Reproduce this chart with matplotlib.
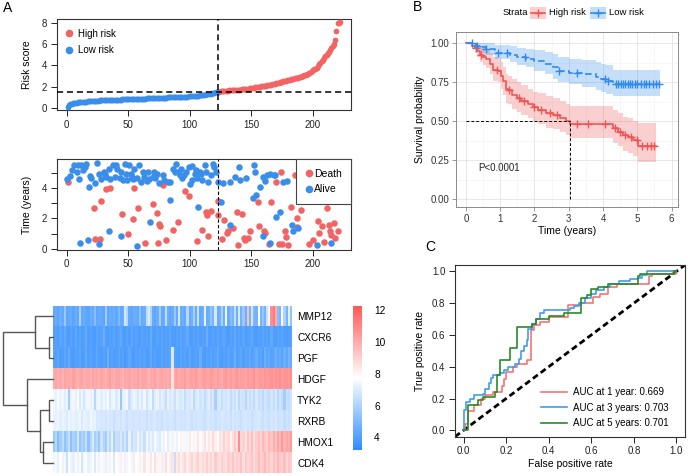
import numpy as np
import matplotlib
matplotlib.use('Agg')
import matplotlib.pyplot as plt
from matplotlib.colors import LinearSegmentedColormap
from matplotlib.patches import Rectangle
from matplotlib.lines import Line2D

plt.rcParams['font.family'] = ['Liberation Sans', 'DejaVu Sans']
plt.rcParams['font.size'] = 7

# ---------------- data ----------------
risk_low = [0.12, 0.25, 0.33, 0.38, 0.42, 0.45, 0.48, 0.50, 0.52, 0.53, 0.55,
            0.56, 0.57, 0.58, 0.59, 0.60, 0.61, 0.61, 0.62, 0.63, 0.64, 0.65, 0.66, 0.67, 0.68, 0.69,
            0.70, 0.70, 0.71, 0.71, 0.72, 0.72, 0.73, 0.73, 0.74, 0.74, 0.75, 0.75, 0.76, 0.76, 0.77,
            0.77, 0.78, 0.78, 0.79, 0.79, 0.80, 0.80, 0.81, 0.81, 0.82,
            0.82, 0.83, 0.83, 0.84, 0.84, 0.85, 0.85, 0.86, 0.86, 0.87, 0.87, 0.88, 0.88, 0.89, 0.89,
            0.90, 0.90, 0.91, 0.91, 0.92, 0.92, 0.93, 0.93, 0.94, 0.95,
            0.95, 0.96, 0.96, 0.97, 0.97, 0.98, 0.98, 0.99, 0.99, 1.00, 1.00, 1.01, 1.01, 1.02, 1.03,
            1.03, 1.04, 1.05, 1.05, 1.06, 1.07, 1.07, 1.08, 1.09, 1.10,
            1.11, 1.12, 1.13, 1.14, 1.15, 1.16, 1.18, 1.19, 1.21, 1.23, 1.25, 1.27, 1.29, 1.31, 1.33,
            1.35, 1.37, 1.39, 1.42, 1.45, 1.48]
risk_high = [1.52, 1.54, 1.56, 1.58, 1.59, 1.60, 1.61, 1.62, 1.63, 1.64,
             1.65, 1.66, 1.67, 1.68, 1.69, 1.70, 1.71, 1.72, 1.73, 1.74,
             1.75, 1.76, 1.77, 1.79, 1.80, 1.82, 1.84, 1.86, 1.88, 1.90,
             1.92, 1.94, 1.96, 1.98, 2.00, 2.02, 2.04, 2.06, 2.08, 2.10,
             2.12, 2.15, 2.18, 2.20, 2.23, 2.26, 2.29, 2.32, 2.35, 2.38,
             2.41, 2.44, 2.47, 2.50, 2.53, 2.56, 2.59, 2.62, 2.65, 2.68,
             2.71, 2.74, 2.77, 2.80, 2.83, 2.86, 2.89, 2.93, 2.97, 3.01,
             3.05, 3.10, 3.15, 3.20, 3.28, 3.36, 3.45, 3.55, 3.62, 3.70,
             3.80, 3.95, 4.10, 4.25, 4.40, 4.55, 4.70, 4.85, 5.00, 5.15,
             5.30, 5.45, 5.60, 5.80, 6.05, 6.40, 7.25, 8.00, 8.02, 8.05]
risk_cutoff = 1.5

# survival status scatter (patient rank, time in years)
death_rank = [1, 22, 28, 23, 27, 32, 35, 45, 50, 54, 55, 58, 64, 70, 73, 74, 75, 76, 78, 81, 86, 90, 96, 99,
              106, 110, 113, 114, 117, 115,
              123, 123, 126, 128, 130, 131, 135, 138, 142, 139, 144, 145, 147, 149, 155, 156, 160, 161, 166,
              164, 170, 174, 172, 175, 177, 178, 180, 182, 185, 187, 187, 190, 197, 200, 204, 207, 205, 209,
              211, 213, 214, 215, 217, 218, 220]
death_time = [4.40, 2.67, 3.15, 0.67, 0.67, 3.93, 4.02, 2.28, 0.98, 1.98, 4.02, 2.70, 0.37, 2.97, 2.35, 0.35,
              1.62, 1.47, 4.20, 0.60, 1.26, 1.76, 3.82, 3.50, 0.50, 1.26, 2.41, 2.24, 2.50, 0.82,
              3.15, 2.24, 0.65, 1.90, 1.04, 1.15, 1.37, 2.41, 2.28, 0.24, 0.72, 0.60, 0.72, 1.15, 3.06, 1.48,
              1.19, 1.04, 3.06, 0.32, 4.40, 5.06, 0.32, 0.28, 1.15, 0.76, 0.24, 2.78, 4.84, 2.02, 1.41, 2.56,
              0.28, 0.60, 1.80, 1.48, 1.04, 0.46, 2.71, 1.59, 1.19, 0.93, 1.70, 0.72, 1.19]
alive_rank = [0, 3, 4, 6, 8, 9, 10, 12, 13, 15, 16, 18, 19, 20, 23, 25, 26, 28, 30, 31, 32, 34, 35, 38, 39, 40, 41,
              43, 44, 46, 47, 48, 49, 51, 52, 53, 54, 55, 57, 59, 60, 62, 63, 65, 66, 67, 70, 71, 72, 73, 75, 78,
              79, 82, 84, 86, 88, 89, 90, 92, 93, 94, 95, 97, 99, 100, 102, 102, 104, 105, 106, 108, 109, 110,
              112, 113, 115, 117, 119, 120, 121, 123,
              11, 17, 26, 34, 44, 57, 68, 84, 107,
              125, 127, 133, 137, 140, 141, 146, 152, 153, 151, 154, 157, 159, 163, 159, 165, 168, 169, 170,
              173, 176, 179, 183, 184, 188, 133, 203, 215, 161, 165]
alive_time = [4.58, 4.80, 5.17, 5.50, 5.06, 5.54, 4.58, 5.54, 5.17, 5.39, 5.56, 4.08, 4.80, 4.63, 4.30, 5.67,
              4.95, 4.56, 5.06, 4.89, 4.74, 5.28, 4.56, 5.50, 4.72, 5.50, 5.28, 4.63, 5.06, 4.52, 5.61, 4.95,
              4.52, 5.50, 4.95, 4.74, 4.56, 5.28, 4.67, 5.54, 4.41, 5.06, 4.74, 4.45, 5.06, 4.58, 4.74, 5.06,
              4.63, 4.89, 4.30, 4.85, 4.52, 4.41, 4.37, 5.28, 5.06, 5.61, 5.06, 4.85, 5.28, 4.63, 4.85, 5.06,
              5.39, 4.28, 5.45, 4.52, 4.95, 5.17, 4.67, 5.06, 4.95, 4.52, 5.50, 5.06, 4.37, 4.85, 5.61, 5.39,
              5.06, 4.41,
              0.39, 0.60, 0.32, 1.19, 0.87, 0.17, 1.74, 3.20, 2.76,
              3.06, 4.30, 4.37, 4.70, 5.39, 4.50, 4.63, 5.50, 5.06, 3.33, 3.54, 4.04, 4.74, 4.84, 0.82, 0.39,
              4.84, 4.84, 2.06, 2.39, 4.37, 4.45, 1.59, 1.19, 1.37, 1.59, 0.24, 0.39, 4.45, 4.90]

# heatmap (genes x patients, patients ordered by risk, 2 patients per column)
genes = ['MMP12', 'CXCR6', 'PGF', 'HDGF', 'TYK2', 'RXRB', 'HMOX1', 'CDK4']
expr_MMP12 = [4.3, 4.5, 4.2, 4.6, 4.4, 5.6, 4.3, 4.4, 4.5, 4.2, 4.6, 4.3, 6.0, 4.4, 4.5, 4.3, 4.2, 4.6, 4.4, 5.2,
              4.3, 4.5, 4.4, 4.2, 5.8, 4.3, 4.5, 4.4, 4.6, 4.3, 5.0, 4.4, 4.5, 6.8, 6.2, 4.4, 4.3, 4.6, 4.5, 4.4,
              5.3, 4.4, 4.6, 6.5, 7.0, 6.0, 4.5, 4.3, 4.6, 5.8, 4.4, 4.5, 6.4, 4.6, 4.3, 4.5, 5.6, 4.4, 6.8, 4.5,
              4.6, 4.4, 6.2, 4.5, 4.7, 5.9, 4.5, 6.6, 4.4, 4.6, 7.2, 4.5, 4.6, 5.5, 4.8, 6.9, 4.5, 4.7, 6.0, 4.6,
              7.4, 4.5, 5.2, 4.8, 6.5, 4.6, 7.0, 4.7, 5.6, 4.6, 9.5, 4.8, 6.8, 5.0, 4.7, 7.8, 4.9, 5.5, 4.8, 6.6,
              7.5, 10.8, 11.3, 10.0, 5.2, 4.9, 7.9, 6.0, 4.8, 7.2, 5.4]
expr_CXCR6 = [4.0, 4.1, 3.9, 4.2, 4.0, 4.4, 4.0, 3.9, 4.1, 4.0, 4.3, 4.0, 4.1, 3.9, 4.0, 4.5, 4.0, 4.1, 4.0, 3.9,
              4.2, 4.0, 4.1, 4.6, 4.0, 3.9, 4.1, 4.0, 4.2, 4.0, 4.1, 4.4, 4.0, 3.9, 4.1, 4.0, 4.3, 4.0, 4.1, 4.0,
              3.9, 4.2, 4.0, 4.1, 4.0, 4.5, 4.0, 3.9, 4.1, 4.0, 4.2, 4.0, 4.1, 4.0, 4.3, 4.0, 3.9, 4.1, 4.0, 4.2,
              4.0, 4.1, 4.4, 4.0, 3.9, 4.1, 4.0, 4.2, 4.0, 4.1, 4.0, 4.6, 4.0, 3.9, 4.1, 4.0, 4.2, 4.0, 4.1, 4.3,
              4.0, 3.9, 4.1, 4.0, 4.4, 4.0, 4.1, 4.0, 4.2, 3.9, 4.0, 4.1, 4.3, 4.0, 3.9, 4.1, 4.0, 4.2, 4.0, 4.1,
              4.0, 4.4, 4.0, 3.9, 4.1, 4.0, 4.2, 4.0, 3.9, 4.0, 4.1]
expr_PGF = [4.1, 4.0, 4.3, 3.9, 4.0, 4.2, 4.0, 4.5, 4.0, 3.9, 4.1, 4.0, 4.2, 3.9, 4.0, 4.4, 4.0, 4.1, 3.9, 4.0,
            4.2, 4.0, 3.9, 4.1, 4.0, 4.6, 4.0, 4.1, 3.9, 4.0, 4.2, 4.0, 4.1, 3.8, 4.0, 4.3, 4.0, 3.9, 4.1, 4.0,
            4.2, 4.0, 4.1, 3.9, 4.0, 4.4, 4.0, 4.1, 3.9, 4.0, 4.2, 4.0, 4.1, 4.0, 4.3, 7.0, 4.1, 4.0, 3.9, 4.2,
            4.0, 4.1, 4.0, 4.3, 3.9, 4.0, 4.1, 4.0, 4.5, 4.0, 3.9, 4.1, 4.0, 4.2, 4.0, 4.1, 4.4, 4.0, 3.9, 4.1,
            4.0, 4.2, 4.0, 4.1, 4.6, 4.0, 4.1, 4.3, 4.0, 4.2, 4.1, 4.4, 4.0, 4.2, 4.5, 4.1, 4.3, 4.0, 4.6, 4.2,
            4.4, 4.1, 4.3, 4.7, 4.2, 4.5, 4.1, 4.6, 4.3, 4.8, 4.5]
expr_HDGF = [10.0, 10.2, 9.9, 10.1, 9.8, 10.2, 10.0, 10.1, 9.9, 10.3, 10.0, 9.8, 10.1, 10.2, 9.9, 10.0, 10.1, 9.8, 10.2, 10.0,
             10.1, 9.9, 10.2, 10.0, 9.8, 10.1, 10.3, 10.0, 9.9, 10.1, 10.2, 10.0, 9.8, 10.1, 10.0, 10.2, 9.9, 10.1, 10.0, 10.3,
             9.9, 10.1, 10.2, 10.0, 9.8, 10.1, 10.0, 10.3, 9.9, 10.1, 10.2, 10.0, 10.1, 9.9, 10.2, 8.5, 10.1, 10.3, 10.0, 10.2,
             10.1, 10.4, 10.0, 10.2, 10.3, 10.1, 10.5, 10.2, 10.0, 10.3, 10.4, 10.1, 10.2, 10.5, 10.3, 10.1, 10.4, 10.2, 10.0, 10.3,
             10.5, 10.2, 10.4, 10.1, 10.3, 10.6, 10.2, 10.4, 10.3, 10.1, 10.5, 10.3, 10.4, 10.6, 10.2, 10.4, 10.5, 10.3, 10.6, 10.4,
             10.5, 10.7, 10.4, 10.6, 10.5, 10.8, 10.4, 10.6, 10.7, 10.5, 10.8]
expr_TYK2 = [7.4, 7.2, 7.6, 7.3, 7.5, 7.1, 7.4, 5.8, 7.3, 7.5, 7.2, 7.6, 7.0, 7.4, 6.8, 7.3, 7.5, 7.2, 7.4, 6.2,
             7.3, 7.5, 7.1, 7.4, 7.2, 7.6, 6.9, 7.3, 7.5, 7.0, 7.4, 5.6, 7.2, 7.3, 7.5, 6.6, 7.1, 7.4, 7.2, 6.9,
             7.3, 7.0, 7.4, 6.7, 7.2, 7.5, 6.4, 7.1, 7.3, 6.8, 7.2, 7.0, 6.5, 7.3, 6.9, 7.1, 6.6, 7.2, 7.0, 6.8,
             7.1, 6.5, 7.0, 6.8, 7.2, 6.3, 6.9, 7.1, 6.7, 7.0, 6.4, 6.8, 7.1, 6.6, 6.9, 5.9, 6.8, 7.0, 6.5, 6.9,
             6.7, 7.0, 6.4, 6.8, 6.6, 7.1, 6.3, 6.8, 6.7, 6.2, 6.9, 6.6, 6.8, 6.4, 7.0, 6.5, 6.7, 6.3, 6.8, 6.6,
             6.4, 6.8, 6.5, 6.9, 6.2, 6.7, 6.5, 5.8, 6.6, 6.4, 6.7]
expr_RXRB = [7.3, 7.2, 7.4, 7.1, 7.3, 7.2, 7.0, 7.4, 7.2, 7.3, 7.1, 7.2, 7.4, 7.0, 7.3, 7.2, 7.1, 7.5, 7.2, 7.3,
             6.9, 7.0, 6.8, 6.9, 6.7, 7.0, 6.8, 6.9, 6.6, 6.8, 6.9, 6.7, 7.0, 6.8, 6.6, 6.9, 6.8, 6.7, 6.9, 6.8,
             6.7, 6.9, 6.8, 6.6, 6.9, 6.7, 6.8, 7.0, 6.7, 6.8, 6.6, 6.9, 6.8, 6.7, 6.9, 6.8, 6.6, 6.8, 6.9, 6.7,
             6.8, 6.7, 6.9, 6.8, 6.6, 6.8, 6.7, 6.9, 6.8, 6.7, 6.6, 6.8, 6.9, 6.7, 6.8, 6.6, 6.8, 6.7, 6.9, 6.8,
             6.7, 6.8, 6.6, 6.9, 6.7, 6.8, 6.7, 6.6, 6.8, 6.9, 6.7, 6.8, 6.6, 6.7, 6.8, 6.9, 6.7, 6.6, 6.8, 6.7,
             6.6, 6.8, 6.7, 6.9, 6.6, 6.7, 6.8, 6.5, 6.7, 6.6, 6.8]
expr_HMOX1 = [5.6, 6.2, 5.2, 5.8, 6.4, 5.4, 5.9, 6.6, 5.3, 6.0, 5.7, 6.8, 5.5, 6.1, 5.8, 6.5, 5.4, 6.2, 7.0, 5.9,
              6.3, 5.6, 6.7, 6.1, 5.8, 6.9, 6.2, 7.2, 6.0, 6.6, 6.4, 7.0, 6.3, 6.8, 6.1, 7.3, 6.5, 6.9, 6.7, 7.4,
              6.8, 7.1, 6.6, 7.5, 7.0, 7.3, 6.9, 7.6, 7.2, 7.0, 7.5, 7.3, 7.8, 7.1, 7.6, 7.4, 7.9, 7.3, 7.7, 8.1,
              7.6, 8.0, 7.5, 8.3, 7.8, 8.1, 7.9, 8.5, 7.7, 8.2, 8.6, 7.9, 8.4, 8.0, 8.8, 8.2, 7.8, 8.6, 8.3, 9.0,
              8.4, 8.8, 8.1, 8.6, 9.2, 8.5, 10.8, 8.7, 9.0, 8.4, 9.3, 8.8, 9.5, 8.6, 9.1, 9.4, 8.9, 9.7, 9.2, 9.0,
              9.6, 9.3, 9.9, 9.4, 10.2, 9.6, 10.5, 9.8, 10.1, 9.9, 10.4]
expr_CDK4 = [7.4, 7.6, 7.2, 7.8, 7.3, 7.5, 6.6, 7.7, 7.4, 7.2, 7.9, 7.3, 7.6, 6.8, 7.5, 7.8, 7.2, 7.4, 7.7, 7.0,
             7.6, 7.3, 7.9, 7.5, 7.2, 8.0, 7.4, 7.7, 6.9, 7.8, 7.5, 8.2, 7.6, 7.3, 8.1, 7.7, 7.4, 8.3, 7.8, 7.6,
             8.2, 7.9, 8.5, 7.7, 8.0, 8.4, 7.8, 8.6, 8.1, 7.5, 8.3, 8.0, 8.7, 7.9, 8.2, 8.5, 6.5, 8.3, 8.7, 8.1,
             8.5, 8.8, 8.2, 8.6, 8.9, 8.3, 8.7, 9.0, 8.4, 8.8, 8.5, 9.1, 8.6, 8.9, 8.4, 9.2, 8.7, 8.5, 9.0, 8.8,
             8.6, 9.1, 8.8, 9.3, 8.7, 9.0, 8.9, 9.4, 8.6, 9.2, 8.8, 9.0, 9.3, 8.7, 9.1, 9.5, 8.9, 9.2, 9.6, 9.0,
             9.3, 8.9, 9.4, 9.1, 9.7, 9.2, 9.0, 9.5, 8.8, 9.3, 9.1]
# row dendrogram merges (child a, child b, height) ; leaves 0..7, new nodes 8..
dendro_merges = [(1, 2, 4.3), (0, 8, 18.0), (4, 5, 4.3), (6, 7, 10.6), (10, 11, 13.0), (3, 12, 26.6), (9, 13, 50.3)]
color_ticks = [4, 6, 8, 10, 12]

# Kaplan-Meier
hr_time = [0.00, 0.17, 0.25, 0.31, 0.41, 0.50, 0.60, 0.70, 0.80, 0.94, 1.01, 1.09, 1.17, 1.23, 1.33, 1.48, 1.62,
           1.82, 1.96, 2.11, 2.35, 2.55, 2.74, 2.93, 3.05, 4.30, 4.44, 4.59, 4.73, 4.88, 5.02, 5.56]
hr_surv = [1.00, 0.985, 0.97, 0.95, 0.925, 0.91, 0.90, 0.87, 0.83, 0.82, 0.79, 0.755, 0.71, 0.70, 0.67, 0.65, 0.63,
           0.61, 0.59, 0.57, 0.555, 0.54, 0.52, 0.505, 0.48, 0.455, 0.434, 0.41, 0.40, 0.38, 0.344, 0.344]
hr_upper = [1.00, 1.00, 1.00, 0.99, 0.98, 0.97, 0.96, 0.94, 0.91, 0.90, 0.88, 0.85, 0.80, 0.79, 0.77, 0.75, 0.73,
            0.71, 0.69, 0.68, 0.66, 0.65, 0.63, 0.61, 0.60, 0.57, 0.55, 0.53, 0.52, 0.50, 0.49, 0.49]
hr_lower = [1.00, 0.96, 0.94, 0.91, 0.88, 0.86, 0.84, 0.80, 0.76, 0.75, 0.71, 0.67, 0.62, 0.61, 0.58, 0.56, 0.54,
            0.52, 0.50, 0.48, 0.46, 0.45, 0.43, 0.41, 0.39, 0.36, 0.34, 0.31, 0.30, 0.28, 0.24, 0.24]
hr_censor = [0.30, 0.45, 0.90, 1.25, 1.55, 1.70, 2.00, 2.20, 2.45, 2.65, 3.25, 3.57, 4.05, 4.35, 4.50, 4.65,
             4.83, 4.98, 5.15, 5.27, 5.40, 5.50]
lr_time = [0.00, 0.30, 0.45, 0.60, 0.85, 1.30, 1.50, 1.75, 2.00, 2.30, 2.55, 2.70, 3.00, 3.40, 3.80, 3.95, 4.10,
           4.30, 5.65]
lr_surv = [1.00, 0.985, 0.975, 0.962, 0.94, 0.925, 0.91, 0.90, 0.885, 0.87, 0.845, 0.82, 0.81, 0.80, 0.786, 0.77,
           0.755, 0.742, 0.742]
lr_upper = [1.00, 1.00, 1.00, 1.00, 0.99, 0.98, 0.97, 0.965, 0.955, 0.945, 0.93, 0.91, 0.90, 0.89, 0.88, 0.87,
            0.86, 0.83, 0.83]
lr_lower = [1.00, 0.96, 0.94, 0.925, 0.90, 0.88, 0.86, 0.85, 0.82, 0.80, 0.77, 0.75, 0.74, 0.72, 0.70, 0.69,
            0.675, 0.66, 0.66]
lr_censor = [0.17, 0.33, 0.60, 0.95, 1.20, 1.72, 2.72, 3.23, 4.05, 4.15, 4.38, 4.45, 4.52, 4.58, 4.65, 4.72,
             4.78, 4.85, 4.92, 5.00, 5.10, 5.20, 5.25, 5.35, 5.45, 5.55, 5.62]
p_text = 'P<0.0001'

# ROC (at fpr x the tpr rises to y)
roc1_fpr = [0, 0.005, 0.02, 0.05, 0.08, 0.10, 0.14, 0.18, 0.19, 0.20, 0.23, 0.25, 0.30, 0.315, 0.33, 0.36, 0.40,
            0.49, 0.55, 0.61, 0.64, 0.68, 0.72, 0.87, 0.885, 1.0]
roc1_tpr = [0, 0.04, 0.12, 0.16, 0.20, 0.22, 0.24, 0.28, 0.32, 0.37, 0.40, 0.42, 0.44, 0.63, 0.66, 0.68, 0.71,
            0.79, 0.80, 0.84, 0.86, 0.90, 0.92, 0.97, 0.985, 1.0]
roc3_fpr = [0, 0.003, 0.01, 0.03, 0.05, 0.09, 0.10, 0.12, 0.13, 0.14, 0.17, 0.19, 0.21, 0.24, 0.26, 0.27, 0.285,
            0.30, 0.305, 0.32, 0.34, 0.36, 0.38, 0.50, 0.52, 0.54, 0.57, 0.60, 0.62, 0.66, 0.69, 0.73, 0.78,
            0.82, 0.84, 0.86, 1.0]
roc3_tpr = [0, 0.13, 0.18, 0.20, 0.22, 0.23, 0.26, 0.30, 0.33, 0.35, 0.36, 0.38, 0.40, 0.42, 0.45, 0.50, 0.53,
            0.57, 0.64, 0.67, 0.70, 0.74, 0.76, 0.77, 0.78, 0.80, 0.83, 0.86, 0.88, 0.90, 0.92, 0.94, 0.95,
            0.96, 0.98, 1.0, 1.0]
roc5_fpr = [0, 0.02, 0.07, 0.09, 0.15, 0.155, 0.17, 0.22, 0.25, 0.32, 0.34, 0.40, 0.47, 0.55, 0.58, 0.60, 0.63,
            0.68, 0.82, 0.83, 0.99, 1.0]
roc5_tpr = [0, 0.16, 0.19, 0.21, 0.24, 0.35, 0.44, 0.52, 0.65, 0.67, 0.70, 0.72, 0.74, 0.83, 0.85, 0.89, 0.90,
            0.92, 0.97, 0.985, 1.0, 1.0]
roc_labels = ['AUC at 1 year: 0.669', 'AUC at 3 years: 0.703', 'AUC at 5 years: 0.701']

# ---------------- styling ----------------
RED = '#F26464'
BLUE = '#3A8EEA'
KM_RED = '#F05555'
KM_BLUE = '#2F8CEE'
ROC_RED = '#F47474'
ROC_BLUE = '#409CEB'
ROC_GREEN = '#2A8A2A'
TICK_FS = 7

W, H = 688, 476
fig = plt.figure(figsize=(6.88, 4.76), dpi=100)


def ax_px(l, t, r, b):
    return fig.add_axes([l / W, 1 - b / H, (r - l) / W, (b - t) / H])


def rstyle(ax):
    for s in ax.spines.values():
        s.set_linewidth(0.8)
        s.set_color('#333333')
    ax.tick_params(direction='out', length=4, width=0.7, pad=3, labelsize=TICK_FS, colors='#222222')


# ---- Panel A: risk score ----
n_low = len(risk_low)
risk = np.array(risk_low + risk_high)
rank = np.arange(1, len(risk) + 1)
ax1 = ax_px(57, 19, 351, 110)
ax1.scatter(rank[n_low:], risk[n_low:], s=17, color=RED, lw=0, zorder=3)
ax1.scatter(rank[:n_low], risk[:n_low], s=17, color=BLUE, lw=0, zorder=3)
ax1.axvline(n_low + 0.5, color='black', lw=1.1, ls=(0, (4, 2.5)), zorder=4)
ax1.axhline(risk_cutoff, color='black', lw=1.1, ls=(0, (4, 2.5)), zorder=4)
ax1.set_xlim(-7.84, 230.84)
ax1.set_ylim(-0.2, 8.37)
ax1.set_xticks([0, 50, 100, 150, 200])
ax1.set_yticks([0, 2, 4, 6, 8])
ax1.set_ylabel('Risk score', fontsize=7.5, labelpad=7)
rstyle(ax1)
h = [Line2D([], [], marker='o', ls='', color=RED, ms=5.5, mew=0),
     Line2D([], [], marker='o', ls='', color=BLUE, ms=5.5, mew=0)]
ax1.legend(h, ['High risk', 'Low risk'], loc='upper left', frameon=False, fontsize=7,
           handlelength=0.8, handletextpad=0.6, labelspacing=0.65, borderaxespad=0.4,
           bbox_to_anchor=(0.0, 0.98))

# ---- Panel A: survival status ----
ax2 = ax_px(57, 159.3, 351, 249.5)
ax2.scatter(death_rank, death_time, s=22, color=RED, lw=0, zorder=3)
ax2.scatter(alive_rank, alive_time, s=22, color=BLUE, lw=0, zorder=3)
ax2.axvline(n_low + 0.5, color='black', lw=0.8, ls=(0, (3, 2)), zorder=4)
ax2.set_xlim(-7.84, 230.84)
ax2.set_ylim(-0.05, 5.89)
ax2.set_xticks([0, 50, 100, 150, 200])
ax2.set_yticks([0, 1, 2, 3, 4, 5])
ax2.set_yticklabels(['0', '', '2', '', '4', ''])
ax2.set_ylabel('Time (years)', fontsize=7.5, labelpad=7)
rstyle(ax2)
h2 = [Line2D([], [], marker='o', ls='', color=RED, ms=5.5, mew=0),
      Line2D([], [], marker='o', ls='', color=BLUE, ms=5.5, mew=0)]
lg2 = ax2.legend(h2, ['Death', 'Alive'], loc='upper right', frameon=True, fancybox=False, fontsize=7.5,
                 handlelength=0.6, handletextpad=0.2, labelspacing=0.55, borderaxespad=0,
                 borderpad=0.9, framealpha=1)
lg2.get_frame().set_edgecolor('#444444')
lg2.get_frame().set_linewidth(0.8)

# ---- Panel A: heatmap ----
rows = [expr_MMP12, expr_CXCR6, expr_PGF, expr_HDGF, expr_TYK2, expr_RXRB, expr_HMOX1, expr_CDK4]
ncol = min(len(r) for r in rows)
mat = np.array([r[:ncol] for r in rows])
cmap = LinearSegmentedColormap.from_list('hm', ['#2C8CFF', '#FFFFFF', '#FF5757'])
ax_hm = ax_px(53.3, 305.7, 291.7, 473.3)
im = ax_hm.imshow(mat, cmap=cmap, vmin=3.2, vmax=12.3, aspect='auto', interpolation='nearest',
                  extent=(0, ncol, len(genes), 0))
ax_hm.set_xticks([])
ax_hm.yaxis.tick_right()
ax_hm.set_yticks(np.arange(len(genes)) + 0.5)
ax_hm.set_yticklabels(genes, fontsize=7.3)
ax_hm.tick_params(axis='y', length=0, pad=4)
for s in ax_hm.spines.values():
    s.set_visible(False)

# dendrogram
ax_d = ax_px(3, 305.7, 53.3, 473.3)
ax_d.set_xlim(50.3, 0)
ax_d.set_ylim(len(genes), 0)
ax_d.axis('off')
pos = {i: i + 0.5 for i in range(len(genes))}
hgt = {i: 0.0 for i in range(len(genes))}
node = len(genes)
for a, b, hh in dendro_merges:
    ya, yb = pos[a], pos[b]
    ax_d.plot([hgt[a], hh, hh, hgt[b]], [ya, ya, yb, yb], color='#555555', lw=1.0, clip_on=False,
              solid_joinstyle='miter')
    pos[node] = (ya + yb) / 2
    hgt[node] = hh
    node += 1

# colorbar
cax = ax_px(352.7, 305.7, 361.7, 450)
cb = fig.colorbar(im, cax=cax, ticks=color_ticks)
cb.outline.set_visible(False)
cax.tick_params(length=0, pad=9, labelsize=7.3)

# ---- Panel B: Kaplan-Meier ----
axk = ax_px(456, 32.3, 677.7, 206.7)
axk.set_xlim(-0.29, 6.18)
axk.set_ylim(-0.047, 1.07)
axk.set_xticks(np.arange(0, 7, 1))
axk.set_yticks([0, 0.25, 0.5, 0.75, 1.0])
axk.set_yticklabels(['0.00', '0.25', '0.50', '0.75', '1.00'])
axk.set_xticks(np.arange(0.5, 6.5, 1), minor=True)
axk.set_yticks([0.125, 0.375, 0.625, 0.875], minor=True)
axk.grid(True, which='major', color='#E3E3E3', lw=0.6)
axk.grid(True, which='minor', color='#F1F1F1', lw=0.4)
axk.set_axisbelow(True)
for s in axk.spines.values():
    s.set_color('#8A8A8A')
    s.set_linewidth(0.7)
axk.tick_params(which='major', direction='out', length=3, width=0.6, color='#8A8A8A', labelsize=7,
                labelcolor='#333333', pad=2)
axk.tick_params(which='minor', length=0)


def km_draw(ax, t, s, lo, up, cens, color, ls):
    t = np.array(t); s = np.array(s)
    ax.fill_between(t, lo, up, step='post', color=color, alpha=0.28, lw=0)
    ax.step(t, s, where='post', color=color, lw=1.2, ls=ls)
    cs = s[np.searchsorted(t, cens, side='right') - 1]
    ax.plot(cens, cs, ls='', marker='+', ms=6, mew=1.0, color=color)


km_draw(axk, hr_time, hr_surv, hr_lower, hr_upper, hr_censor, KM_RED, '-')
km_draw(axk, lr_time, lr_surv, lr_lower, lr_upper, lr_censor, KM_BLUE, (0, (4, 2)))
hs = np.array(hr_surv)
t_med = np.array(hr_time)[np.argmax(hs <= 0.5)]
axk.plot([0, t_med], [0.5, 0.5], color='black', lw=0.7, ls=(0, (3, 2)))
axk.plot([t_med, t_med], [0, 0.5], color='black', lw=0.7, ls=(0, (3, 2)))
axk.text(0.35, 0.2, p_text, fontsize=7, ha='left', va='center', color='#222222')
axk.set_ylabel('Survival probability', fontsize=7.5, labelpad=4)
axk.set_xlabel('Time (years)', fontsize=7.5, labelpad=2)

# KM legend (top)
ly = 1 - 12.7 / H
fig.text(503 / W, ly, 'Strata', fontsize=6.8, ha='left', va='center')
for x0, col, lab in [(530, KM_RED, 'High risk'), (590, KM_BLUE, 'Low risk')]:
    fig.patches.append(Rectangle((x0 / W, 1 - 18.5 / H), 16 / W, 11.5 / H, transform=fig.transFigure,
                                 facecolor=col, alpha=0.28, lw=0))
    fig.lines.append(Line2D([(x0 + 1) / W, (x0 + 15) / W], [ly, ly], transform=fig.transFigure, color=col, lw=1.2))
    fig.lines.append(Line2D([(x0 + 8) / W], [ly], transform=fig.transFigure, color=col, marker='+',
                            ms=6, mew=1.0))
    fig.text((x0 + 19) / W, ly, lab, fontsize=6.8, ha='left', va='center')

# ---- Panel C: ROC ----
axr = ax_px(455, 265, 685, 436.7)
axr.set_xlim(-0.04, 1.04)
axr.set_ylim(-0.04, 1.04)
axr.plot([-0.04, 1.04], [-0.04, 1.04], color='black', lw=2.0, ls=(0, (2.2, 1.3)), zorder=2)
for f, tp, col in [(roc1_fpr, roc1_tpr, ROC_RED), (roc3_fpr, roc3_tpr, ROC_BLUE), (roc5_fpr, roc5_tpr, ROC_GREEN)]:
    axr.step(f, tp, where='post', color=col, lw=1.2, zorder=3)
ticks = [0, 0.2, 0.4, 0.6, 0.8, 1.0]
axr.set_xticks(ticks)
axr.set_yticks(ticks)
axr.set_xticklabels(['%.1f' % v for v in ticks])
axr.set_yticklabels(['%.1f' % v for v in ticks])
rstyle(axr)
axr.set_xlabel('False positive rate', fontsize=7.5, labelpad=2)
axr.set_ylabel('True positive rate', fontsize=7.5, labelpad=5)
hr_ = [Line2D([], [], color=c, lw=1.2) for c in (ROC_RED, ROC_BLUE, ROC_GREEN)]
axr.legend(hr_, roc_labels, loc='upper left', bbox_to_anchor=(0.355, 0.31), frameon=False, fontsize=7,
           handlelength=2.7, handletextpad=0.6, labelspacing=0.55, borderaxespad=0)

# panel letters
fig.text(8 / W, 1 - 8 / H, 'A', fontsize=10, ha='center', va='center')
fig.text(418 / W, 1 - 7 / H, 'B', fontsize=10, ha='center', va='center')
fig.text(430 / W, 1 - 247 / H, 'C', fontsize=10, ha='center', va='center')

fig.savefig('out.png', dpi=100)
